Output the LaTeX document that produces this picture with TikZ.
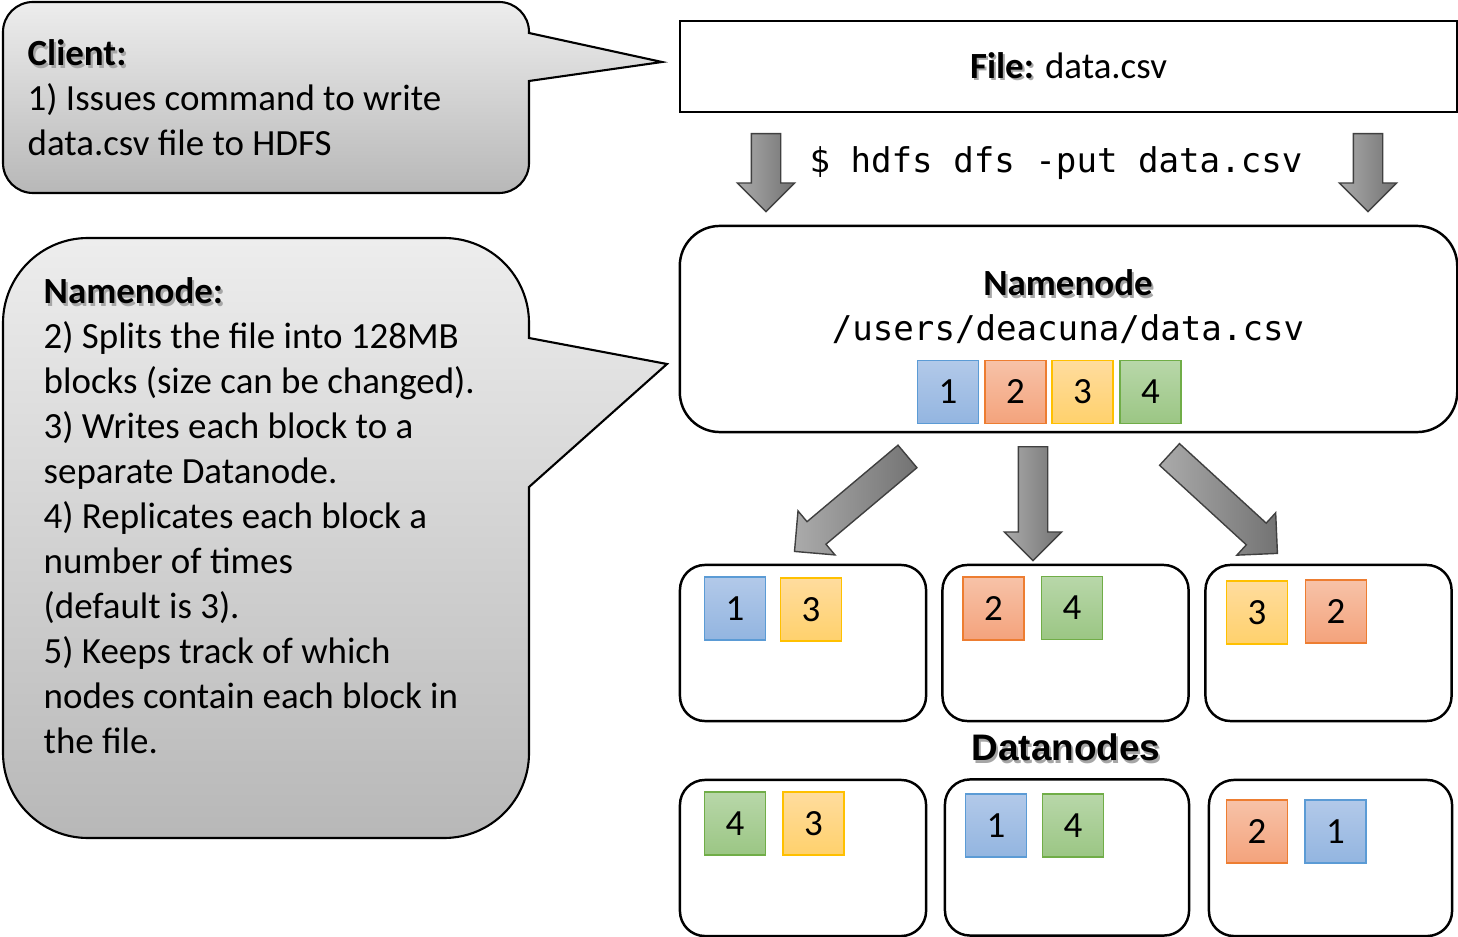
\documentclass[tikz,border=0pt]{standalone}
\usepackage{fontspec}
\setmainfont{Carlito}
\setmonofont{DejaVu Sans Mono}
\newfontfamily\arialfont{Liberation Sans}
\usetikzlibrary{shapes.arrows,calc}

\definecolor{bluetop}{HTML}{B2C9E9}
\definecolor{bluebot}{HTML}{93B5E0}
\definecolor{blueline}{HTML}{5B9BD5}
\definecolor{orangetop}{HTML}{F7C2A8}
\definecolor{orangebot}{HTML}{F4A37C}
\definecolor{orangeline}{HTML}{ED7D31}
\definecolor{yellowtop}{HTML}{FFDC9E}
\definecolor{yellowbot}{HTML}{FFD16C}
\definecolor{yellowline}{HTML}{FFC000}
\definecolor{greentop}{HTML}{B8D7A9}
\definecolor{greenbot}{HTML}{9BC684}
\definecolor{greenline}{HTML}{70AD47}

% text with a soft drop shadow
\newcommand\shadowed[1]{\makebox[0pt][l]{\hspace{0.6pt}\raisebox{-0.7pt}{\color{black!35}#1}}#1}

\tikzset{
  callout/.style={draw=black, line width=0.6pt, top color=black!7, bottom color=black!28},
  calltext/.style={anchor=west, align=left, inner sep=0pt, font=\fontsize{10.5}{12.8}\selectfont},
  hdfsbox/.style={draw=black, line width=0.7pt, rounded corners=0.25cm, minimum width=2.46cm, minimum height=1.56cm},
  blk/.style={minimum width=0.61cm, minimum height=0.63cm, inner sep=0pt, line width=0.4pt, font=\fontsize{10.5}{12}\selectfont},
  blk1/.style={blk, draw=blueline, top color=bluetop, bottom color=bluebot},
  blk2/.style={blk, draw=orangeline, top color=orangetop, bottom color=orangebot},
  blk3/.style={blk, draw=yellowline, top color=yellowtop, bottom color=yellowbot},
  blk4/.style={blk, draw=greenline, top color=greentop, bottom color=greenbot},
  fat arrow/.style={single arrow, draw=black!75, line width=0.4pt, left color=black!33, right color=black!55,
    text height=0.28cm, text depth=0pt, minimum width=0.56cm, single arrow head extend=0.14cm,
    single arrow head indent=0pt, inner sep=0pt, anchor=tail},
  mono/.style={font=\ttfamily\fontsize{9.7}{12}\selectfont, inner sep=0pt}
}

% big gray arrow between two points
\newcommand\fatarrow[2]{%
  \path let \p1=(#1), \p2=(#2), \n1={atan2(\y2-\y1,\x2-\x1)}, \n2={veclen(\x2-\x1,\y2-\y1)} in
    node[fat arrow, rotate=\n1, minimum height=\n2] at (#1) {};}

\begin{document}
\begin{tikzpicture}[x=0.01cm, y=-0.01cm]
  \useasboundingbox (0,0) rectangle (1458,937);

  % client callout
  \path[callout] (529,81) -- (529,163) arc[start angle=0, end angle=90, radius=30]
    -- (33,193) arc[start angle=90, end angle=180, radius=30]
    -- (3,32) arc[start angle=180, end angle=270, radius=30]
    -- (499,2) arc[start angle=270, end angle=360, radius=30]
    -- (529,33) -- (662,62) -- cycle;
  \node[calltext] (client) at (27,98) {\shadowed{\textbf{Client:}}\\
    1) Issues command to write\\
    data.csv file to HDFS};

  % namenode callout
  \path[callout] (529,487) -- (529,753) arc[start angle=0, end angle=90, radius=85]
    -- (88,838) arc[start angle=90, end angle=180, radius=85]
    -- (3,323) arc[start angle=180, end angle=270, radius=85]
    -- (444,238) arc[start angle=270, end angle=360, radius=85]
    -- (529,338) -- (667,364) -- cycle;
  \node[calltext] (steps) at (43,516) {\shadowed{\textbf{Namenode:}}\\
    2) Splits the file into 128MB\\
    blocks (size can be changed).\\
    3) Writes each block to a\\
    separate Datanode.\\
    4) Replicates each block a\\
    number of times\\
    (default is 3).\\
    5) Keeps track of which\\
    nodes contain each block in\\
    the file.};

  % file box
  \node[draw=black, line width=0.7pt, minimum width=7.77cm, minimum height=0.91cm,
    font=\fontsize{10.5}{12}\selectfont] (file) at (1068.5,66.5) {\shadowed{\textbf{File:}} data.csv};

  % put command
  \node[mono] (cmd) at (1056,163) {\$ hdfs dfs -put data.csv};
  \coordinate (put1) at (766,133);
  \coordinate (put2) at (766,211);
  \coordinate (put3) at (1368,133);
  \coordinate (put4) at (1368,211);
  \fatarrow{put1}{put2}
  \fatarrow{put3}{put4}

  % namenode box
  \node[draw=black, line width=0.7pt, rounded corners=0.4cm, minimum width=7.77cm, minimum height=2.06cm] (nn) at (1068.5,329) {};
  \node[font=\bfseries\fontsize{10.5}{12}\selectfont, inner sep=0pt] (nntitle) at (1068,284) {\shadowed{Namenode}};
  \node[mono] (nnpath) at (1068,329) {/users/deacuna/data.csv};
  \foreach \n/\x in {1/948, 2/1015.5, 3/1082.5, 4/1150.5}
    \node[blk\n] (nb\n) at (\x,392) {\n};

  % arrows to the datanodes
  \coordinate (rep1) at (908,456);
  \coordinate (rep2) at (795,551);
  \coordinate (rep3) at (1033,446);
  \coordinate (rep4) at (1033,560);
  \coordinate (rep5) at (1169,454);
  \coordinate (rep6) at (1277,553);
  \fatarrow{rep1}{rep2}
  \fatarrow{rep3}{rep4}
  \fatarrow{rep5}{rep6}

  % datanodes
  \node[hdfsbox] (dn1) at (803,643) {};
  \node[hdfsbox] (dn2) at (1065.5,643) {};
  \node[hdfsbox] (dn3) at (1328.5,643) {};
  \node[hdfsbox] (dn4) at (803,858) {};
  \node[hdfsbox, minimum width=2.44cm] (dn5) at (1067,857.5) {};
  \node[hdfsbox, minimum width=2.43cm] (dn6) at (1330.5,858) {};
  \node[font=\arialfont\bfseries\fontsize{10.5}{12}\selectfont, inner sep=0pt] (dnlabel) at (1066,749) {\shadowed{Datanodes}};

  % block replicas
  \foreach \d/\n/\x/\y in {1/1/735/608.5, 1/3/811/609.5, 2/2/993.5/608.5, 2/4/1072/608,
      3/3/1257/612.5, 3/2/1336/611.5, 4/4/735/823.5, 4/3/813.5/823.5,
      5/1/996/825.5, 5/4/1073/825.5, 6/2/1257/831.5, 6/1/1335.5/831.5}
    \node[blk\n] (d\d b\n) at (\x,\y) {\n};

\end{tikzpicture}
\end{document}
